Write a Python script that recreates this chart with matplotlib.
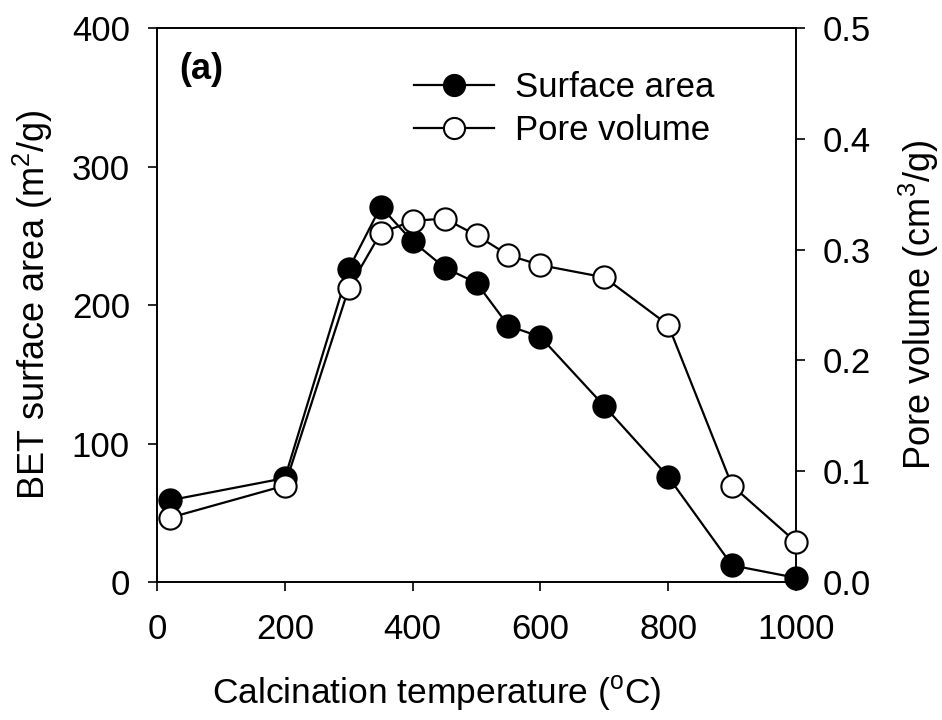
import matplotlib
matplotlib.use("Agg")
import matplotlib.pyplot as plt

plt.rcParams['font.family'] = ['Liberation Sans', 'DejaVu Sans']
plt.rcParams['mathtext.fontset'] = 'custom'
plt.rcParams['mathtext.rm'] = 'Liberation Sans'

temperature = [20, 200, 300, 350, 400, 450, 500, 550, 600, 700, 800, 900, 1000]
surface_area = [59, 75, 226, 271, 246, 227, 216, 185, 177, 127, 76, 12, 3]
pore_volume = [0.058, 0.087, 0.265, 0.315, 0.326, 0.328, 0.313, 0.295, 0.286, 0.275, 0.232, 0.087, 0.036]

x_ticks = [0, 200, 400, 600, 800, 1000]
left_ticks = [0, 100, 200, 300, 400]
right_ticks = [0.0, 0.1, 0.2, 0.3, 0.4, 0.5]

fig = plt.figure(figsize=(9.42, 7.2), dpi=100)
ax = fig.add_axes([0.1667, 0.1917, 0.6783, 0.7693])
ax2 = ax.twinx()

tick_fs = 25
label_fs = 26
legend_fs = 25

l1, = ax.plot(temperature, surface_area, '-o', color='black', lw=1.6,
              ms=16, mfc='black', mec='black', mew=1.5, zorder=3,
              label='Surface area', clip_on=False)
l2, = ax2.plot(temperature, pore_volume, '-o', color='black', lw=1.6,
               ms=16, mfc='white', mec='black', mew=1.5, zorder=3,
               label='Pore volume', clip_on=False)

ax.set_xlim(0, 1000)
ax.set_ylim(0, 400)
ax2.set_ylim(0, 0.5)
ax.set_xticks(x_ticks)
ax.set_yticks(left_ticks)
ax2.set_yticks(right_ticks)
ax2.set_yticklabels([f"{v:.1f}" for v in right_ticks])

for a in (ax, ax2):
    a.tick_params(direction='out', length=6.5, width=1.2, labelsize=tick_fs)
    for s in a.spines.values():
        s.set_linewidth(1.2)
ax.tick_params(axis='x', pad=16)
ax.tick_params(axis='y', pad=13)
ax2.tick_params(axis='y', pad=13)

ax.set_xlabel('Calcination temperature ($\\mathregular{^o}$C)', fontsize=25.5, labelpad=20)
ax.xaxis.label.set_x(0.438)
ax.set_ylabel('BET surface area (m$\\mathregular{^2}$/g)', fontsize=label_fs, labelpad=12)
ax2.set_ylabel('Pore volume (cm$\\mathregular{^3}$/g)', fontsize=label_fs, labelpad=18)

ax.text(0.035, 0.925, '(a)', transform=ax.transAxes, fontsize=label_fs, fontweight='bold',
        va='center', ha='left')

ax2.legend(handles=[l1, l2], loc='upper left', bbox_to_anchor=(0.37, 0.96),
           frameon=False, fontsize=legend_fs, handlelength=2.3, handletextpad=0.6,
           labelspacing=0.3, borderaxespad=0.2, markerscale=0.95)

fig.savefig('out.png', dpi=100)
